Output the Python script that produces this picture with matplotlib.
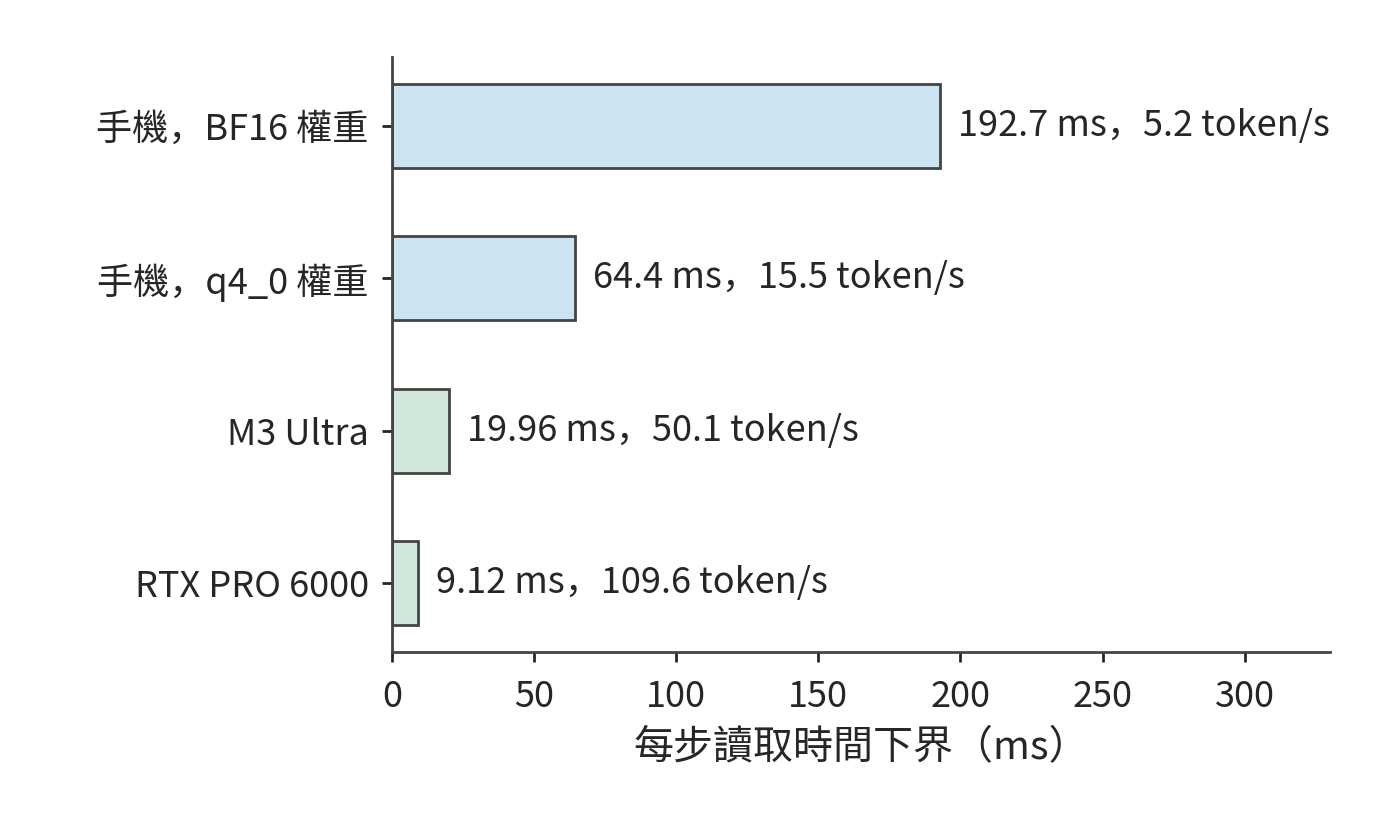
import matplotlib
matplotlib.use("Agg")
import matplotlib.pyplot as plt

plt.rcParams['font.family'] = ['Noto Sans CJK SC', 'DejaVu Sans']

categories = ["手機，BF16 權重", "手機，q4_0 權重", "M3 Ultra", "RTX PRO 6000"]
times_ms = [192.7, 64.4, 19.96, 9.12]
value_labels = ["192.7 ms，5.2 token/s", "64.4 ms，15.5 token/s",
                "19.96 ms，50.1 token/s", "9.12 ms，109.6 token/s"]
colors = ["#cce3f2", "#cce3f2", "#d0e8dc", "#d0e8dc"]
xticks = [0, 50, 100, 150, 200, 250, 300]

text_color = "#262626"
edge = "#444444"

fig = plt.figure(figsize=(7, 4.08), dpi=200)
ax = fig.add_axes([0.28, 0.201, 0.67, 0.729])

ypos = list(range(len(categories)))[::-1]
bars = ax.barh(ypos, times_ms, height=0.55, color=colors, edgecolor=edge, linewidth=1.0)
for b, lab in zip(bars, value_labels):
    ax.annotate(lab, xy=(b.get_width(), b.get_y() + b.get_height() / 2),
                xytext=(6.5, 0), textcoords="offset points",
                ha="left", va="center", fontsize=13, color=text_color)

ax.set_yticks(ypos)
ax.set_yticklabels(categories, fontsize=13, color=text_color)
ax.set_xticks(xticks)
ax.set_xticklabels([str(t) for t in xticks], fontsize=13, color=text_color)
ax.set_xlim(0, 330)
ax.set_xlabel("每步讀取時間下界（ms）", fontsize=14.4, color=text_color, labelpad=4.5)

for s in ["top", "right"]:
    ax.spines[s].set_visible(False)
for s in ["left", "bottom"]:
    ax.spines[s].set_color(edge)
    ax.spines[s].set_linewidth(1.0)
ax.tick_params(colors=text_color, width=1.0, length=3.5)
ax.tick_params(axis="x", pad=6.4)
ax.tick_params(axis="y", pad=4.9)

fig.savefig("out.png", dpi=200)
